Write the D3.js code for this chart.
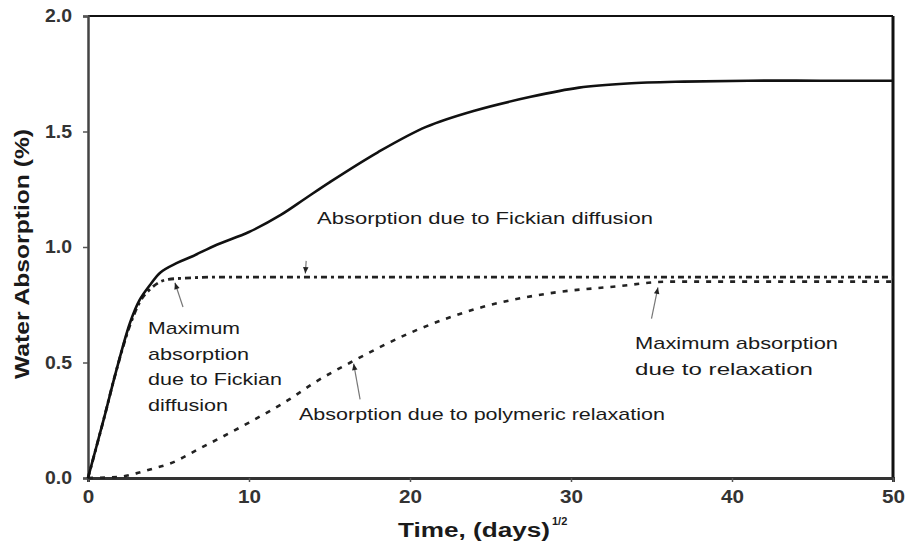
<!DOCTYPE html>
<html>
<head>
<meta charset="utf-8">
<script src="https://cdn.jsdelivr.net/npm/d3@7"></script>
<style>
body { margin: 0; background: #fff; }
text { font-family: "Liberation Sans", Arial, sans-serif; fill: #1a1a1a; }
</style>
</head>
<body>
<script>
var width = 907,
    height = 556,
    margin = {top: 16, right: 14, bottom: 78, left: 88};

// tick values
var xTicks = [0, 10, 20, 30, 40, 50];
var yTicks = [0, 0.5, 1.0, 1.5, 2.0];

// total absorption (solid)
var totalT = [0, 0.5, 1, 1.7, 2.6, 3.2, 3.9, 4.5, 5.5, 6.5, 8, 10, 12, 13.5, 15, 18, 21, 24, 27.5, 30.5, 33.5, 37, 41, 45.5, 50];
var totalY = [0, 0.13, 0.26, 0.45, 0.67, 0.77, 0.84, 0.89, 0.93, 0.96, 1.01, 1.065, 1.14, 1.21, 1.28, 1.41, 1.52, 1.59, 1.65, 1.69, 1.708, 1.716, 1.72, 1.72, 1.72];

// Fickian part (dash-dot)
var fickT = [0, 1, 1.7, 2.6, 3.2, 3.9, 4.5, 5, 6, 8, 12, 20, 30, 40, 50];
var fickY = [0, 0.26, 0.45, 0.66, 0.76, 0.82, 0.85, 0.86, 0.865, 0.87, 0.87, 0.87, 0.87, 0.87, 0.87];

// polymeric relaxation part (dashed)
var relaxT = [0, 2, 3, 4, 5, 7, 10, 12.5, 14, 16.3, 20.4, 24.5, 28.7, 32.9, 36, 40, 45, 50];
var relaxY = [0, 0.005, 0.02, 0.04, 0.06, 0.13, 0.24, 0.34, 0.41, 0.50, 0.64, 0.74, 0.80, 0.83, 0.85, 0.85, 0.85, 0.85];

var svg = d3.select("body").append("svg")
    .attr("width", width)
    .attr("height", height)
    .style("background", "#fff");

var x = d3.scaleLinear().domain([0, 50]).range([margin.left, width - margin.right]);
var y = d3.scaleLinear().domain([0, 2]).range([height - margin.bottom, margin.top]);

// frame: top and right borders
svg.append("line")
    .attr("x1", x(0)).attr("x2", x(50))
    .attr("y1", y(2)).attr("y2", y(2))
    .attr("stroke", "#111").attr("stroke-width", 2);
svg.append("line")
    .attr("x1", x(50)).attr("x2", x(50))
    .attr("y1", y(2)).attr("y2", y(0))
    .attr("stroke", "#111").attr("stroke-width", 3);

function labelLength(s) {
    return s.replace(/\./g, "").length * 11.5 + (s.indexOf(".") >= 0 ? 4 : 0);
}

var yAxis = svg.append("g")
    .attr("transform", "translate(" + x(0) + ",0)")
    .call(d3.axisLeft(y).tickValues(yTicks).tickFormat(d3.format(".1f")).tickSize(5).tickPadding(11));
yAxis.select(".domain").attr("stroke", "#444").attr("stroke-width", 2.5);
yAxis.selectAll(".tick line").attr("stroke", "#555").attr("stroke-width", 1.5);
yAxis.selectAll(".tick text")
    .attr("font-size", 18).attr("font-weight", "bold").style("fill", "#333")
    .attr("textLength", function(d) { return labelLength(d3.format(".1f")(d)); })
    .attr("lengthAdjust", "spacingAndGlyphs");

var xAxis = svg.append("g")
    .attr("transform", "translate(0," + y(0) + ")")
    .call(d3.axisBottom(x).tickValues(xTicks).tickSize(4).tickPadding(21));
xAxis.select(".domain").attr("stroke", "#333").attr("stroke-width", 3);
xAxis.selectAll(".tick line").attr("stroke", "#555").attr("stroke-width", 1.5);
xAxis.selectAll(".tick text")
    .attr("font-size", 18).attr("font-weight", "bold").style("fill", "#333")
    .attr("dy", 0)
    .attr("textLength", function(d) { return labelLength(String(d)); })
    .attr("lengthAdjust", "spacingAndGlyphs");

// axis titles
svg.append("text")
    .attr("transform", "translate(29,254) rotate(-90)")
    .attr("text-anchor", "middle")
    .attr("font-size", 20).attr("font-weight", "bold")
    .attr("textLength", 250).attr("lengthAdjust", "spacingAndGlyphs")
    .text("Water Absorption (%)");
svg.append("text")
    .attr("x", 398).attr("y", 537)
    .attr("font-size", 20).attr("font-weight", "bold")
    .attr("textLength", 152).attr("lengthAdjust", "spacingAndGlyphs")
    .text("Time, (days)");
svg.append("text")
    .attr("x", 552).attr("y", 525)
    .attr("font-size", 11).attr("font-weight", "bold")
    .text("1/2");

function series(ts, vs) {
    return ts.map(function(t, i) { return [t, vs[i]]; });
}

var line = d3.line()
    .x(function(d) { return x(d[0]); })
    .y(function(d) { return y(d[1]); })
    .curve(d3.curveMonotoneX);

svg.append("path")
    .datum(series(relaxT, relaxY))
    .attr("d", line)
    .attr("fill", "none")
    .attr("stroke", "#222")
    .attr("stroke-width", 2.6)
    .attr("stroke-dasharray", "5,7");

svg.append("path")
    .datum(series(fickT, fickY))
    .attr("d", line)
    .attr("fill", "none")
    .attr("stroke", "#222")
    .attr("stroke-width", 2.8)
    .attr("stroke-dasharray", "6,4,3,4");

svg.append("path")
    .datum(series(totalT, totalY))
    .attr("d", line.curve(d3.curveCatmullRom.alpha(0.5)))
    .attr("fill", "none")
    .attr("stroke", "#111")
    .attr("stroke-width", 2.6);

// arrows to the curves
function arrow(t0, v0, t1, v1) {
    var x0 = x(t0), y0 = y(v0), x1 = x(t1), y1 = y(v1);
    var a = Math.atan2(y1 - y0, x1 - x0), s = 7;
    svg.append("line")
        .attr("x1", x0).attr("y1", y0).attr("x2", x1).attr("y2", y1)
        .attr("stroke", "#777").attr("stroke-width", 1.2);
    var p = [[x1, y1],
             [x1 - s * Math.cos(a - 0.4), y1 - s * Math.sin(a - 0.4)],
             [x1 - s * Math.cos(a + 0.4), y1 - s * Math.sin(a + 0.4)]];
    svg.append("path")
        .attr("d", "M" + p.join("L") + "Z")
        .attr("fill", "#222");
}
arrow(5.9, 0.74, 5.4, 0.845);
arrow(13.55, 0.94, 13.5, 0.885);
arrow(16.9, 0.34, 16.5, 0.495);
arrow(35.0, 0.69, 35.4, 0.825);

// annotation texts
function note(px, py, str, len, size) {
    svg.append("text")
        .attr("x", px).attr("y", py)
        .attr("font-size", size || 17)
        .attr("textLength", len).attr("lengthAdjust", "spacingAndGlyphs")
        .text(str);
}
note(317, 224, "Absorption due to Fickian diffusion", 336);
note(148, 334, "Maximum", 92);
note(148, 360, "absorption", 101);
note(148, 385, "due to Fickian", 134);
note(148, 411, "diffusion", 80);
note(299, 420, "Absorption due to polymeric relaxation", 366);
note(635, 349, "Maximum absorption", 203);
note(635, 375, "due to relaxation", 178);
</script>
</body>
</html>
